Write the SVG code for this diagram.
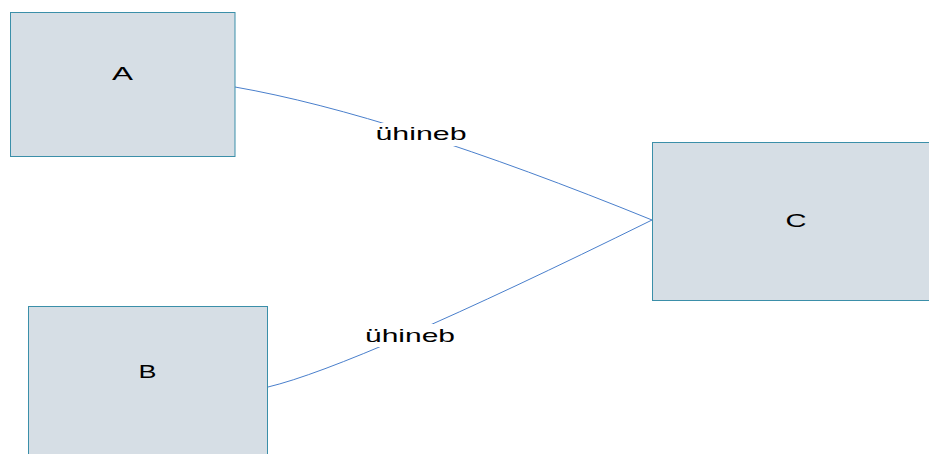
<svg xmlns="http://www.w3.org/2000/svg" width="929" height="454" viewBox="0 0 929 454">
<style>
.box{fill:#d6dee5;stroke:#3b8fa9;stroke-width:1}
.lbl{font-family:"Liberation Sans",Arial,sans-serif;font-size:19px;fill:#000;text-anchor:middle}
.edge{fill:none;stroke:#4a7fcc;stroke-width:1}
.bg{fill:#ffffff}
</style>
<rect width="929" height="454" fill="#ffffff"/>
<g id="connectors">
<path class="edge" d="M235,87 Q392.5,114.5 652,220"/>
<path class="edge" d="M268,387 Q356,366 652,220"/>
<rect class="bg" x="374" y="123" width="94" height="23"/>
<text class="lbl" x="421" y="140" textLength="91" lengthAdjust="spacingAndGlyphs">ühineb</text>
<rect class="bg" x="363" y="324" width="94" height="23"/>
<text class="lbl" x="410" y="342" textLength="90" lengthAdjust="spacingAndGlyphs">ühineb</text>
</g>
<g id="A">
<rect class="box" x="10.5" y="12.5" width="224.5" height="144"/>
<text class="lbl" x="122.5" y="80" textLength="21" lengthAdjust="spacingAndGlyphs">A</text>
</g>
<g id="B">
<rect class="box" x="28.5" y="306.5" width="239" height="160"/>
<text class="lbl" x="147.5" y="378" textLength="18" lengthAdjust="spacingAndGlyphs">B</text>
</g>
<g id="C">
<rect class="box" x="652.5" y="142.5" width="290" height="158"/>
<text class="lbl" x="796" y="227" textLength="21" lengthAdjust="spacingAndGlyphs">C</text>
</g>
</svg>
